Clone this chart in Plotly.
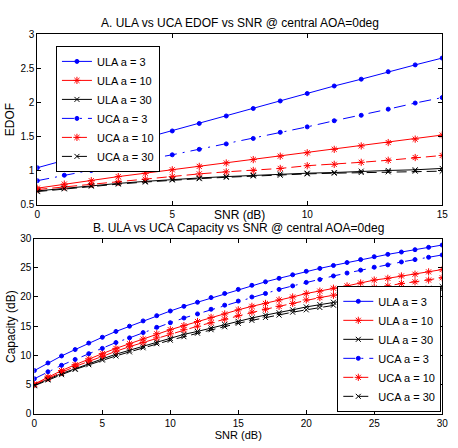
import plotly.graph_objects as go

# ---------------- data ----------------
snr_a = list(range(0, 16))
edof_ula3 = [1.04, 1.15, 1.25, 1.36, 1.48, 1.58, 1.69, 1.80, 1.91, 2.02, 2.13, 2.24, 2.34, 2.45, 2.55, 2.65]
edof_ula10 = [0.74, 0.80, 0.85, 0.91, 0.96, 1.01, 1.06, 1.11, 1.16, 1.21, 1.26, 1.31, 1.36, 1.41, 1.46, 1.52]
edof_ula30 = [0.70, 0.74, 0.78, 0.81, 0.84, 0.87, 0.89, 0.91, 0.93, 0.95, 0.96, 0.97, 0.99, 1.00, 1.01, 1.03]
edof_uca3 = [0.85, 0.93, 1.00, 1.08, 1.16, 1.23, 1.31, 1.39, 1.47, 1.56, 1.64, 1.73, 1.81, 1.90, 1.99, 2.07]
edof_uca10 = [0.72, 0.76, 0.80, 0.83, 0.87, 0.91, 0.95, 0.98, 1.00, 1.03, 1.07, 1.09, 1.12, 1.15, 1.19, 1.22]
edof_uca30 = [0.69, 0.73, 0.77, 0.80, 0.83, 0.86, 0.88, 0.90, 0.92, 0.93, 0.95, 0.96, 0.97, 0.98, 0.99, 0.99]

snr_b = list(range(0, 31))
cap_ula3 = [7.4, 8.7, 9.9, 11.0, 12.1, 13.1, 14.1, 15.0, 15.9, 16.8, 17.6, 18.4, 19.1, 19.9, 20.6, 21.3,
            22.0, 22.6, 23.2, 23.8, 24.4, 24.9, 25.4, 25.9, 26.4, 26.9, 27.3, 27.7, 28.1, 28.5, 28.9]
cap_ula10 = [5.1, 6.3, 7.4, 8.4, 9.4, 10.3, 11.2, 12.0, 12.8, 13.7, 14.4, 15.1, 15.8, 16.5, 17.1, 17.8,
             18.4, 18.9, 19.5, 20.0, 20.6, 21.0, 21.5, 21.9, 22.4, 22.9, 23.2, 23.6, 23.9, 24.3, 24.7]
cap_ula30 = [4.9, 5.9, 6.9, 7.7, 8.6, 9.4, 10.2, 10.9, 11.6, 12.3, 12.9, 13.6, 14.1, 14.7, 15.3, 15.8,
             16.4, 16.9, 17.3, 17.8, 18.3, 18.7, 19.1, 19.4, 19.8, 20.2, 20.5, 20.9, 21.2, 21.5, 21.8]
cap_uca3 = [6.0, 7.2, 8.3, 9.3, 10.3, 11.2, 12.2, 13.0, 13.9, 14.8, 15.6, 16.4, 17.1, 17.9, 18.6, 19.3,
            20.0, 20.6, 21.3, 21.9, 22.5, 23.0, 23.6, 24.1, 24.6, 25.1, 25.5, 26.0, 26.4, 26.8, 27.2]
cap_uca10 = [5.0, 6.1, 7.1, 8.1, 9.0, 9.8, 10.7, 11.5, 12.2, 13.0, 13.7, 14.4, 15.0, 15.6, 16.2, 16.8,
             17.4, 17.9, 18.4, 18.9, 19.5, 19.9, 20.3, 20.7, 21.2, 21.6, 21.9, 22.3, 22.6, 22.9, 23.3]
cap_uca30 = [4.8, 5.8, 6.7, 7.6, 8.4, 9.2, 9.9, 10.6, 11.3, 12.0, 12.6, 13.2, 13.8, 14.4, 14.9, 15.5,
             16.0, 16.5, 16.9, 17.4, 17.8, 18.2, 18.6, 19.0, 19.4, 19.8, 20.1, 20.4, 20.7, 21.0, 21.3]

names = ["ULA a = 3", "ULA a = 10", "ULA a = 30", "UCA a = 3", "UCA a = 10", "UCA a = 30"]
top_title = "A. ULA vs UCA EDOF vs SNR @ central AOA=0deg"
bot_title = "B. ULA vs UCA Capacity vs SNR @ central AOA=0deg"

# ---------------- styles ----------------
BLUE, RED, BLACK = "#0000ff", "#ff0000", "#000000"
styles = [
    dict(color=BLUE, dash="solid", symbol="circle", size=4),
    dict(color=RED, dash="solid", symbol="asterisk-open", size=6),
    dict(color=BLACK, dash="solid", symbol="x-thin-open", size=5),
    dict(color=BLUE, dash="12px,6px,2px,6px", symbol="circle", size=4),
    dict(color=RED, dash="10px,5px", symbol="asterisk-open", size=6),
    dict(color=BLACK, dash="10px,5px", symbol="x-thin-open", size=5),
]

W, H = 458, 448
def px_x(p):
    return p / W
def px_y(p):
    return 1 - p / H

fig = go.Figure()
top_series = [edof_ula3, edof_ula10, edof_ula30, edof_uca3, edof_uca10, edof_uca30]
bot_series = [cap_ula3, cap_ula10, cap_ula30, cap_uca3, cap_uca10, cap_uca30]

for name, ys, st in zip(names, top_series, styles):
    fig.add_trace(go.Scatter(
        x=snr_a, y=ys, name=name, mode="lines+markers", xaxis="x", yaxis="y", legend="legend",
        line=dict(color=st["color"], width=1, dash=st["dash"]),
        marker=dict(symbol=st["symbol"], size=st["size"], color=st["color"],
                    line=dict(color=st["color"], width=1))))
for name, ys, st in zip(names, bot_series, styles):
    fig.add_trace(go.Scatter(
        x=snr_b, y=ys, name=name, mode="lines+markers", xaxis="x2", yaxis="y2", legend="legend2",
        line=dict(color=st["color"], width=1, dash=st["dash"]),
        marker=dict(symbol=st["symbol"], size=st["size"], color=st["color"],
                    line=dict(color=st["color"], width=1))))

FONT = "Liberation Sans, Arial, sans-serif"
axis_common = dict(showline=True, linecolor="black", linewidth=1, mirror="ticks",
                   ticks="inside", ticklen=4, tickcolor="black", showgrid=False,
                   zeroline=False, tickfont=dict(size=10, color="black", family=FONT))

fig.update_layout(
    width=W, height=H, margin=dict(l=0, r=0, t=0, b=0),
    paper_bgcolor="white", plot_bgcolor="white",
    font=dict(family=FONT, color="black", size=11),
    showlegend=True,
    xaxis=dict(domain=[px_x(35), px_x(448)], range=[0, 15], tickvals=[0, 5, 10, 15],
               anchor="y", **axis_common),
    yaxis=dict(domain=[px_y(204), px_y(29)], range=[0.5, 3],
               tickvals=[0.5, 1, 1.5, 2, 2.5, 3], ticktext=["0.5", "1", "1.5", "2", "2.5", "3"],
               anchor="x", **axis_common),
    xaxis2=dict(domain=[px_x(32), px_x(448)], range=[0, 30], tickvals=list(range(0, 31, 5)),
                anchor="y2", title=dict(text="SNR (dB)", standoff=0, font=dict(size=11)),
                **axis_common),
    yaxis2=dict(domain=[px_y(419), px_y(239)], range=[0, 30], tickvals=list(range(0, 31, 5)),
                anchor="x2", **axis_common),
    legend=dict(x=px_x(54), y=px_y(41), xanchor="left", yanchor="top",
                bgcolor="white", bordercolor="black", borderwidth=1,
                font=dict(size=11, family=FONT), tracegroupgap=0, itemwidth=30),
    legend2=dict(x=px_x(341), y=px_y(417), xanchor="left", yanchor="bottom",
                 bgcolor="white", bordercolor="black", borderwidth=1,
                 font=dict(size=11, family=FONT), tracegroupgap=0, itemwidth=30),
    annotations=[
        dict(text=top_title, x=px_x(241.5), y=px_y(17), xref="paper", yref="paper",
             showarrow=False, font=dict(size=12), xanchor="center", yanchor="middle"),
        dict(text="SNR (dB)", x=px_x(241.5), y=px_y(215), xref="paper", yref="paper",
             showarrow=False, font=dict(size=12), xanchor="center", yanchor="middle"),
        dict(text="EDOF", x=px_x(8), y=px_y(116.5), xref="paper", yref="paper", textangle=-90,
             showarrow=False, font=dict(size=12), xanchor="center", yanchor="middle"),
        dict(text=bot_title, x=px_x(240), y=px_y(228), xref="paper", yref="paper",
             showarrow=False, font=dict(size=12), xanchor="center", yanchor="middle"),
        dict(text="Capacity (dB)", x=px_x(8), y=px_y(329), xref="paper", yref="paper",
             textangle=-90, showarrow=False, font=dict(size=12), xanchor="center", yanchor="middle"),
    ],
)

fig.write_html("out.html")
